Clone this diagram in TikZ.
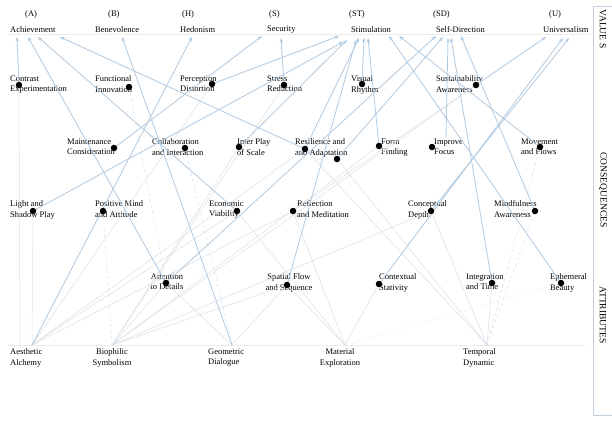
\documentclass[tikz,border=0pt]{standalone}
\usepackage{fontspec}
\setmainfont{Liberation Serif}
\usetikzlibrary{arrows.meta}
\definecolor{lnk}{RGB}{176,202,224}
\definecolor{fnt}{RGB}{218,224,230}
\definecolor{frm}{RGB}{195,208,222}
\begin{document}
\begin{tikzpicture}[x=1pt,y=-1pt,
  lbl/.style={font=\fontsize{8.5}{10.5}\selectfont, inner sep=0pt, align=left, anchor=north west},
  lblc/.style={font=\fontsize{8.5}{10.5}\selectfont, inner sep=0pt, align=center, anchor=north},
  val/.style={font=\fontsize{8.5}{10.5}\selectfont, inner sep=0pt, anchor=west},
  side/.style={font=\fontsize{9.5}{11}\selectfont, inner sep=0pt, rotate=-90},
  dot/.style={circle, fill=black, inner sep=0pt, minimum size=6.5pt},
  arr/.style={draw=lnk, line width=0.8pt, -{Stealth[length=4.5pt,width=3.5pt]}},
  faint/.style={draw=fnt, line width=0.5pt},
]
\useasboundingbox (0,0) rectangle (612,423);
\fill[white] (0,0) rectangle (612,423);

% faint rules
\draw[black!8, line width=0.5pt] (8,34) -- (590,34);
\draw[black!8, line width=0.5pt] (8,345) -- (585,345);

% side panel
\draw[frm, line width=0.6pt] (616,6) -- (593,6) -- (593,415) -- (616,415);
\node[side] (sv) at (603,29) {VALUE S};
\node[side] (sc) at (603,190) {CONSEQUENCES};
\node[side] (sa2) at (603,315) {ATTRIBUTES};

% value codes and names
\node[val] (cA) at (25,14) {(A)};
\node[val] (cB) at (108,14) {(B)};
\node[val] (cH) at (182,14) {(H)};
\node[val] (cS) at (269,14) {(S)};
\node[val] (cST) at (349,14) {(ST)};
\node[val] (cSD) at (433,14) {(SD)};
\node[val] (cU) at (549,14) {(U)};
\node[val] (A) at (10,30) {Achievement};
\node[val] (B) at (95,30) {Benevolence};
\node[val] (H) at (180,30) {Hedonism};
\node[val] (S) at (267,30) {Security};
\node[val] (ST) at (351,30) {Stimulation};
\node[val] (SD) at (436,30) {Self-Direction};
\node[val] (U) at (543,30) {Universalism};

% consequence labels
\node[lbl] (CE) at (10,75.5) {Contrast\\Experimentation};
\node[lbl] (FI) at (95,75.5) {Functional\\Innovation};
\node[lbl] (PD) at (180,75.5) {Perception\\Distortion};
\node[lbl] (SR) at (267,75.5) {Stress\\Reduction};
\node[lbl] (VR) at (351,75.5) {Visual\\Rhythm};
\node[lbl] (SA) at (436,75.5) {Sustainability\\Awareness};
\node[lbl] (MC) at (67,138.5) {Maintenance\\Consideration};
\node[lbl] (CI) at (152,138.5) {Collaboration\\and Interaction};
\node[lbl] (IP) at (237,138.5) {Inter Play\\of Scale};
\node[lbl] (RA) at (295,138.5) {Resilience and\\and Adaptation};
\node[lbl] (FF) at (381,138.5) {Form\\Finding};
\node[lbl] (IF) at (434,138.5) {Improve\\Focus};
\node[lbl] (MF) at (521,138.5) {Movement\\and Flows};
\node[lbl] (LS) at (10,200.5) {Light and\\Shadow Play};
\node[lbl] (PM) at (95,200.5) {Positive Mind\\and Attitude};
\node[lbl] (EV) at (209,200.5) {Economic\\Viability};
\node[lbl] (RM) at (297,200.5) {Reflection\\and Meditation};
\node[lbl] (CD) at (408,200.5) {Conceptual\\Depth};
\node[lbl] (MA) at (494,200.5) {Mindfulness\\Awareness};
\node[lblc] (AD) at (167,273.5) {Attention\\to Details};
\node[lblc] (SF) at (289,273.5) {Spatial Flow\\and Sequence};
\node[lbl] (CS) at (379,273.5) {Contextual\\Stativity};
\node[lbl] (IT) at (466,273.5) {Integration\\and Time};
\node[lbl] (EB) at (550,273.5) {Ephemeral\\Beauty};
% attribute labels
\node[lbl] (AA) at (10,348.5) {Aesthetic\\Alchemy};
\node[lblc] (BS) at (112,348.5) {Biophilic\\Symbolism};
\node[lbl] (GD) at (208,348.5) {Geometric\\Dialogue};
\node[lblc] (ME) at (340,348.5) {Material\\Exploration};
\node[lbl] (TD) at (463,348.5) {Temporal\\Dynamic};

% dot coordinates
\coordinate (ce) at (19,85);   \coordinate (fi) at (129,87);
\coordinate (pd) at (212,84);  \coordinate (sr) at (284,85);
\coordinate (vr) at (362,84);  \coordinate (sa) at (476,85);
\coordinate (mc) at (114,148); \coordinate (ci) at (185,148);
\coordinate (ip) at (239,147); \coordinate (raa) at (305,149);
\coordinate (rab) at (337,159);\coordinate (ff) at (379,146);
\coordinate (ifo) at (432,147);\coordinate (ift) at (446,137);
\coordinate (mf) at (540,147);
\coordinate (ls) at (33,211);  \coordinate (pm) at (103,211);
\coordinate (ev) at (237,211); \coordinate (rm) at (293,211);
\coordinate (cd) at (431,211); \coordinate (ma) at (535,211);
\coordinate (ad) at (166,283); \coordinate (sf) at (287,285);
\coordinate (cs) at (379,284); \coordinate (it) at (492,283);
\coordinate (eb) at (561,283);
\coordinate (aa) at (32,345);  \coordinate (aa2) at (20,345);
\coordinate (bs) at (112,345); \coordinate (gd) at (232,345);
\coordinate (me) at (345,345); \coordinate (td) at (487,345);

% arrow tips at values
\coordinate (tA1) at (17,37);  \coordinate (tA2) at (28,37);
\coordinate (tA3) at (38,37);  \coordinate (tA4) at (60,37);
\coordinate (tB) at (122,37);  \coordinate (tH) at (192,37);
\coordinate (tS1) at (262,36); \coordinate (tS2) at (281,38);
\coordinate (tT1) at (339,36); \coordinate (tT2) at (343,42);
\coordinate (tT3) at (347,40); \coordinate (tT4) at (356,40);
\coordinate (tT5) at (359,38); \coordinate (tT6) at (364,38);
\coordinate (tT7) at (368,38); \coordinate (tT8) at (389,36);
\coordinate (tT9) at (399,36);
\coordinate (tD1) at (436,36); \coordinate (tD2) at (443,37);
\coordinate (tD3) at (448,38); \coordinate (tD4) at (451,38);
\coordinate (tD5) at (461,36);
\coordinate (tU1) at (546,37); \coordinate (tU2) at (563,38);
\coordinate (tU3) at (569,38);

% faint attribute links
\draw[faint] (aa2) -- (ce);
\draw[faint] (aa) -- (ls);
\draw[faint] (aa) -- (ev);
\draw[faint] (aa) -- (raa);
\draw[faint] (aa) -- (rm);
\draw[faint] (aa) -- (pd);
\draw[faint, dashed] (bs) -- (pm);
\draw[faint] (bs) -- (ip);
\draw[faint] (bs) -- (sf);
\draw[faint] (bs) -- (cd);
\draw[faint] (bs) -- (ff);
\draw[faint] (bs) -- (sa);
\draw[faint] (bs) -- (ad);
\draw[faint] (bs) -- (sr);
\draw[faint, dashed] (gd) -- (ci);
\draw[faint] (gd) -- (ad);
\draw[faint] (gd) -- (sf);
\draw[faint] (me) -- (sf);
\draw[faint] (me) -- (cs);
\draw[faint] (me) -- (rm);
\draw[faint] (me) -- (ev);
\draw[faint, dotted, line width=0.7pt] (me) -- (eb);
\draw[faint] (td) -- (it);
\draw[faint, dashed] (td) -- (ma);
\draw[faint, dashed] (td) -- (mf);
\draw[faint] (td) -- (cd);
\draw[faint] (td) -- (rab);
\draw[faint] (td) -- (raa);
\draw[faint] (rm) -- (sa);
\draw[faint, dashed] (fi) -- (ad);

% arrows to values
\draw[arr] (ce) -- (tA1);
\draw[arr] (ad) -- (tA2);
\draw[arr] (ev) -- (tA3);
\draw[arr] (raa) -- (tA4);
\draw[arr] (gd) -- (tB);
\draw[arr] (aa) -- (tH);
\draw[arr] (mc) -- (tS1);
\draw[arr] (sr) -- (tS2);
\draw[arr] (pd) -- (tT1);
\draw[arr] (ls) -- (tT2);
\draw[arr] (ip) -- (tT3);
\draw[arr] (sf) -- (tT4);
\draw[arr] (raa) -- (tT5);
\draw[arr] (vr) -- (tT6);
\draw[arr] (ff) -- (tT7);
\draw[arr] (eb) -- (tT8);
\draw[arr] (mf) -- (tT9);
\draw[arr] (ad) -- (tD1);
\draw[arr] (rab) -- (tD2);
\draw[arr] (ift) -- (tD3);
\draw[arr] (it) -- (tD4);
\draw[arr] (ma) -- (tD5);
\draw[arr] (sa) -- (tU1);
\draw[arr] (cs) -- (tU2);
\draw[arr] (cd) -- (tU3);

% dots
\foreach \p in {ce,fi,pd,sr,vr,sa,mc,ci,ip,raa,rab,ff,ifo,mf,ls,pm,ev,rm,cd,ma,ad,sf,cs,it,eb}
  \node[dot] (d-\p) at (\p) {};
\end{tikzpicture}
\end{document}
